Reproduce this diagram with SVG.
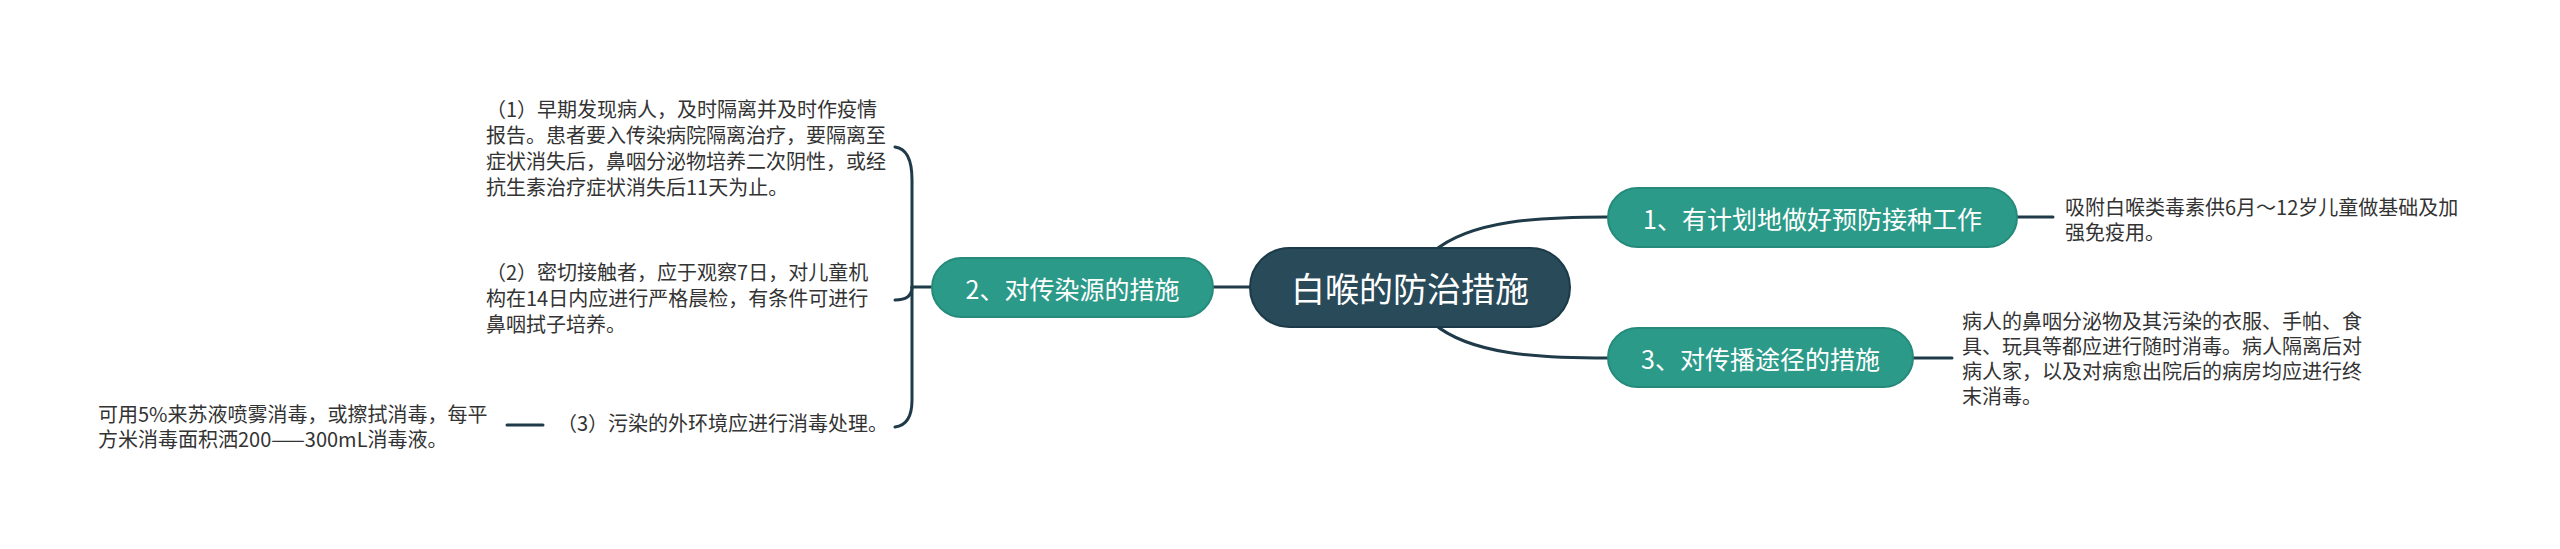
<svg xmlns="http://www.w3.org/2000/svg" width="2560" height="549" viewBox="0 0 2560 549">
<style>
.conn{fill:none;stroke:#1f3a48;stroke-width:3;stroke-linecap:round}
.root{fill:#284a59;stroke:#1c3a47;stroke-width:2}
.main{fill:#2c9a89;stroke:#258a7a;stroke-width:2}
.rt{font-family:"Noto Sans CJK SC","Noto Sans",sans-serif;font-size:34px;fill:#ffffff;text-anchor:middle;dominant-baseline:central}
.mt{font-family:"Noto Sans CJK SC","Noto Sans",sans-serif;font-size:25px;fill:#ffffff;text-anchor:middle;dominant-baseline:central}
.lt{font-family:"Noto Sans CJK SC","Noto Sans",sans-serif;font-size:20px;fill:#333333}
</style>
<rect width="2560" height="549" fill="#ffffff"/>
<g id="connectors">
<path class="conn" d="M1433,252 C1470,220 1540,217 1608,217"/>
<path class="conn" d="M1433,323 C1470,355 1540,358 1608,358"/>
<path class="conn" d="M1213,287 L1250,287"/>
<path class="conn" d="M912,287 L932,287"/>
<path class="conn" d="M912,287 L912,180 Q912,149 895,147"/>
<path class="conn" d="M912,287 Q912,300 895,300"/>
<path class="conn" d="M912,287 L912,400 Q912,425 895,427"/>
<path class="conn" d="M2017,217 L2053,217"/>
<path class="conn" d="M1913,358 L1952,358"/>
<path class="conn" d="M507,425 L543,425"/>
</g>
<g id="root">
<rect class="root" x="1250" y="248" width="320" height="79" rx="39.5"/>
<text class="rt" x="1410" y="287.5">白喉的防治措施</text>
</g>
<g id="node1">
<rect class="main" x="1608" y="188" width="409" height="59" rx="29.5"/>
<text class="mt" x="1812.5" y="217.5">1、有计划地做好预防接种工作</text>
</g>
<g id="node2">
<rect class="main" x="932" y="258" width="281" height="59" rx="29.5"/>
<text class="mt" x="1072.5" y="287.5">2、对传染源的措施</text>
</g>
<g id="node3">
<rect class="main" x="1608" y="328" width="305" height="59" rx="29.5"/>
<text class="mt" x="1760.5" y="357.5">3、对传播途径的措施</text>
</g>
<g id="leaf1">
<text class="lt" x="2065" y="215">吸附白喉类毒素供6月～12岁儿童做基础及加</text>
<text class="lt" x="2065" y="240">强免疫用。</text>
</g>
<g id="leaf3">
<text class="lt" x="1962" y="329">病人的鼻咽分泌物及其污染的衣服、手帕、食</text>
<text class="lt" x="1962" y="354">具、玩具等都应进行随时消毒。病人隔离后对</text>
<text class="lt" x="1962" y="379">病人家，以及对病愈出院后的病房均应进行终</text>
<text class="lt" x="1962" y="404">末消毒。</text>
</g>
<g id="item1">
<text class="lt" x="486" y="117">（1）早期发现病人，及时隔离并及时作疫情</text>
<text class="lt" x="486" y="143">报告。患者要入传染病院隔离治疗，要隔离至</text>
<text class="lt" x="486" y="169">症状消失后，鼻咽分泌物培养二次阴性，或经</text>
<text class="lt" x="486" y="195">抗生素治疗症状消失后11天为止。</text>
</g>
<g id="item2">
<text class="lt" x="486" y="280">（2）密切接触者，应于观察7日，对儿童机</text>
<text class="lt" x="486" y="306">构在14日内应进行严格晨检，有条件可进行</text>
<text class="lt" x="486" y="332">鼻咽拭子培养。</text>
</g>
<g id="item3">
<text class="lt" x="557" y="431">（3）污染的外环境应进行消毒处理。</text>
</g>
<g id="leaf2-3">
<text class="lt" x="98" y="422">可用5%来苏液喷雾消毒，或擦拭消毒，每平</text>
<text class="lt" x="98" y="447">方米消毒面积洒200——300mL消毒液。</text>
</g>
</svg>
